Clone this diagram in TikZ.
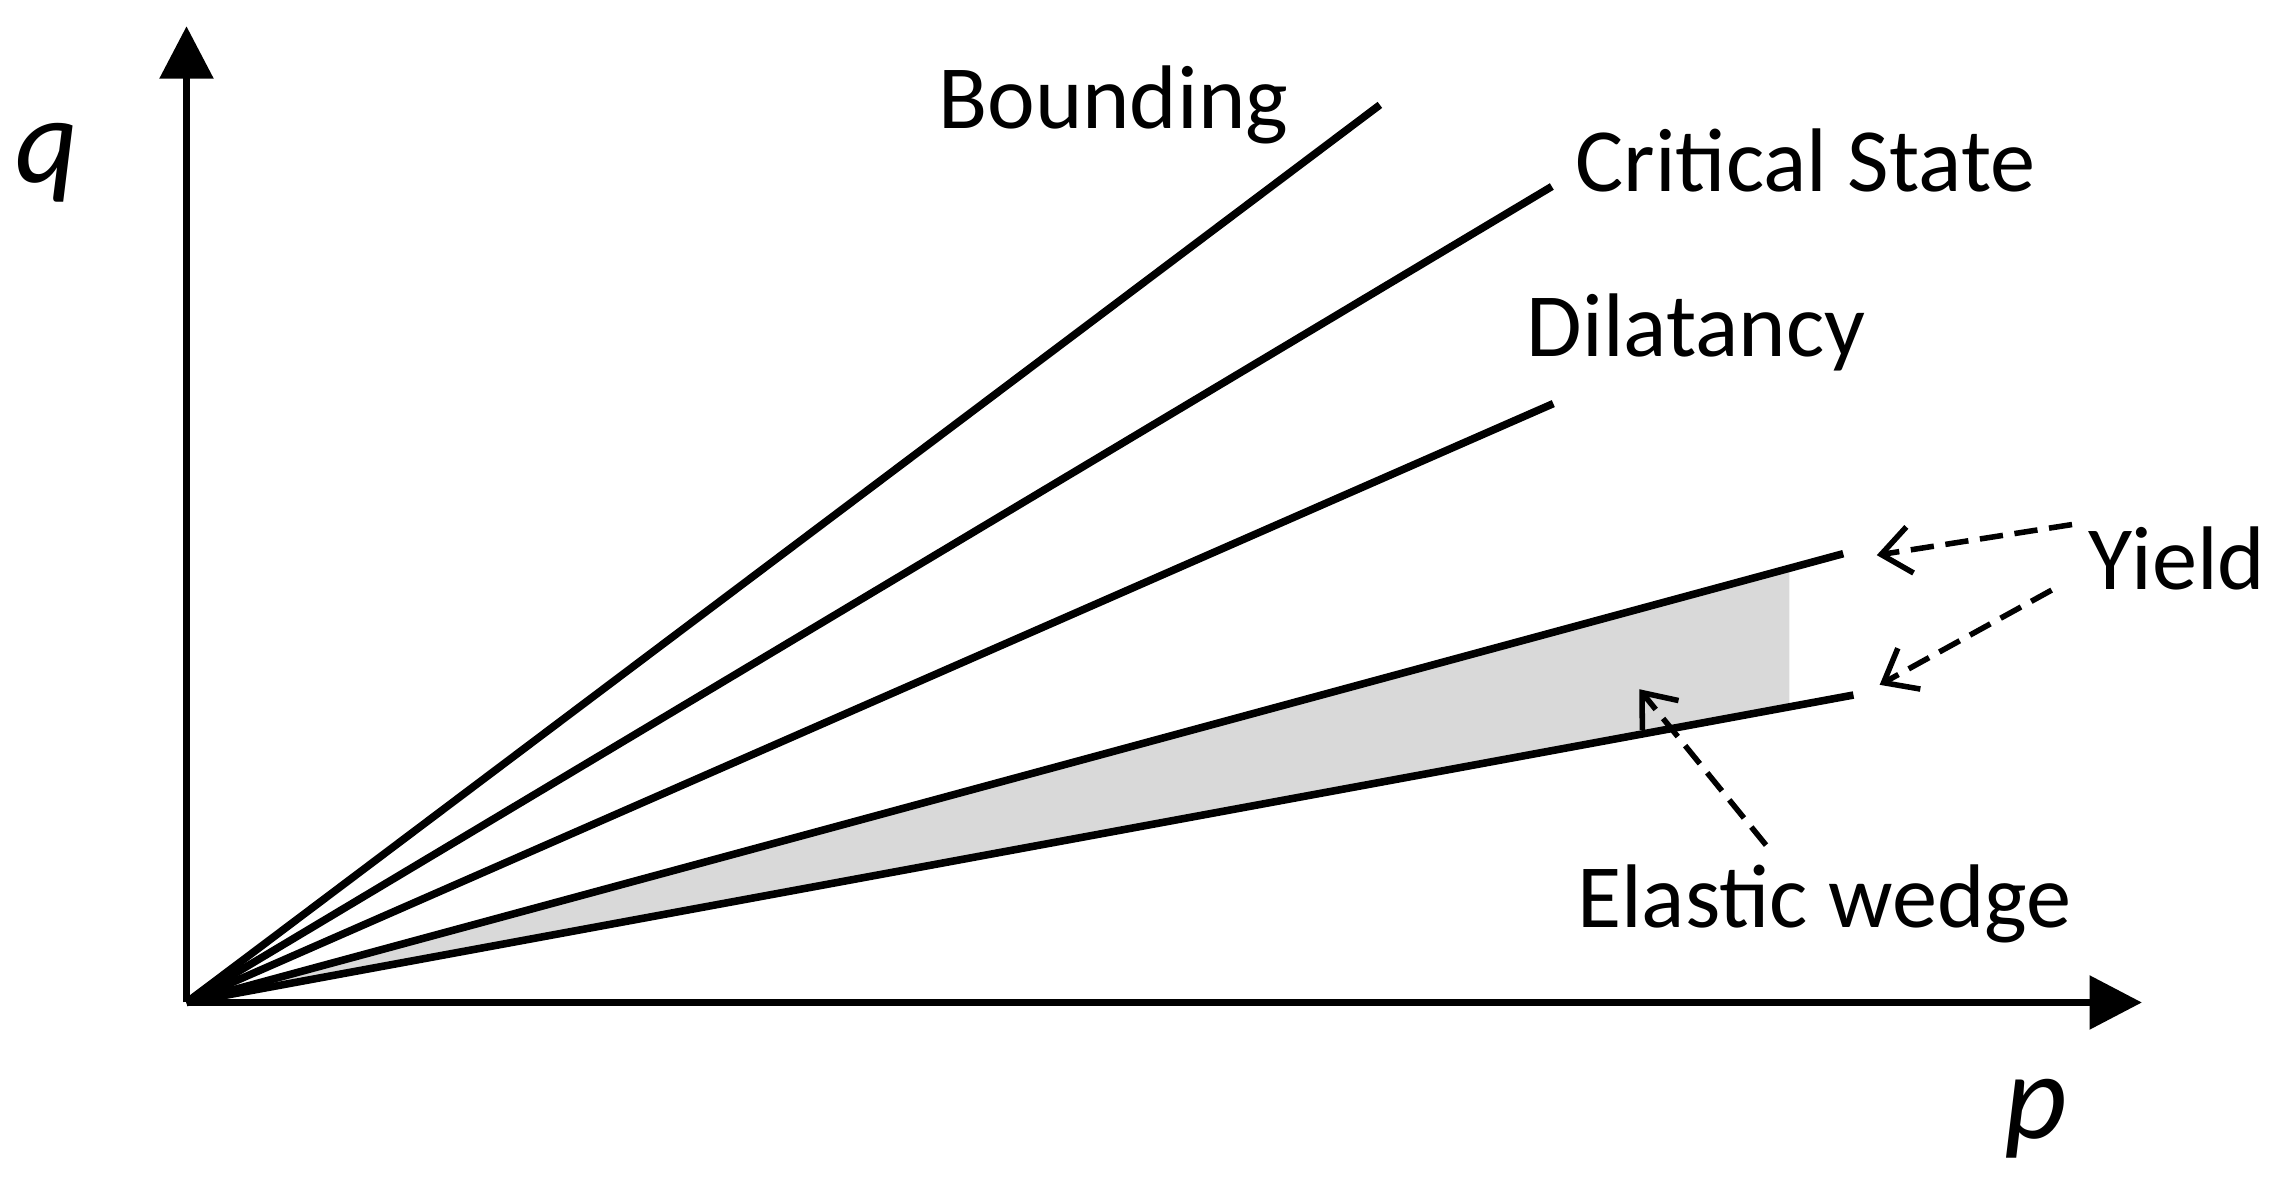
\documentclass[tikz,border=0pt]{standalone}
\usepackage{fontspec}
\setmainfont{Carlito}
\usetikzlibrary{arrows.meta}
\begin{document}
\begin{tikzpicture}[x=0.5pt,y=-0.5pt,
  ln/.style={line width=2.6pt},
  lbl/.style={font=\fontsize{31}{36}\selectfont},
  da/.style={line width=1.9pt,dash pattern=on 8pt off 4pt,-{Straight Barb[length=10pt,width=16pt,line width=1.9pt]}}]
\useasboundingbox (0,0) rectangle (1562,822);
\coordinate (O) at (128,688);
\coordinate (Y) at (128,18);
\coordinate (X) at (1470,688);
\coordinate (b) at (947,72);
\coordinate (c) at (1065,128);
\coordinate (d) at (1066,277);
\coordinate (yu) at (1265,380);
\coordinate (yl) at (1272,477);
\fill[gray!30] (O) -- (1228,390) -- (1228,485) -- cycle;
\draw[ln,-{Triangle[length=18pt,width=18pt]}] (O) -- (Y);
\draw[ln,-{Triangle[length=18pt,width=18pt]}] (O) -- (X);
\draw[ln] (O) -- (b);
\draw[ln] (O) -- (c);
\draw[ln] (O) -- (d);
\draw[ln] (O) -- (yu);
\draw[ln] (O) -- (yl);
\node[lbl] (lb) at (764,72) {Bounding};
\node[lbl] (lc) at (1239,110) {Critical State};
\node[lbl] (ld) at (1164,228) {Dilatancy};
\node[lbl] (ly) at (1494,383) {Yield};
\node[lbl] (le) at (1252,620) {Elastic wedge};
\node[font=\fontsize{42}{48}\selectfont\itshape] (q) at (32,112) {q};
\node[font=\fontsize{42}{48}\selectfont\itshape] (p) at (1397,768) {p};
\coordinate (a1) at (1422,360); \coordinate (t1) at (1288,381);
\coordinate (a2) at (1408,405); \coordinate (t2) at (1290,470);
\coordinate (a3) at (1212,580); \coordinate (t3) at (1125,473);
\draw[da] (a1) -- (t1);
\draw[da] (a2) -- (t2);
\draw[da] (a3) -- (t3);
\end{tikzpicture}
\end{document}
